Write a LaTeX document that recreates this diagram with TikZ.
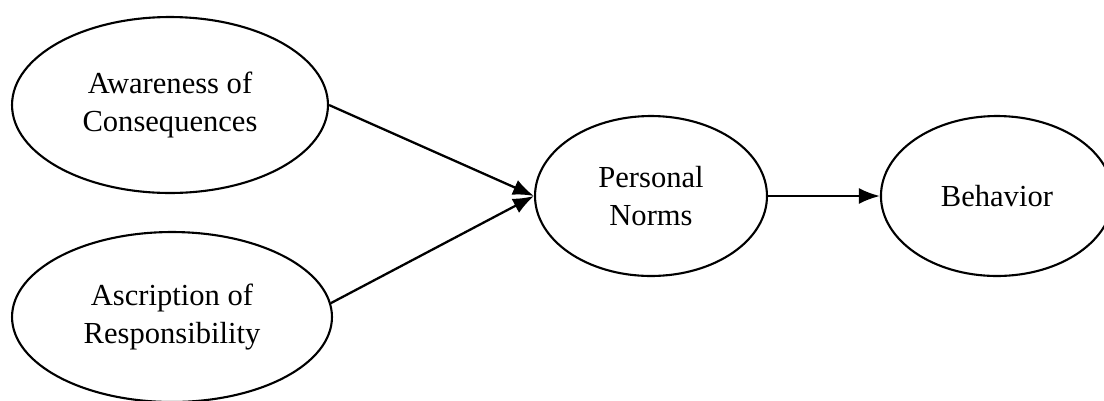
\documentclass[tikz,border=0pt]{standalone}
\usepackage{fontspec}
\setmainfont{Liberation Serif}
\usepackage{tikz}
\usetikzlibrary{shapes.geometric}
\usetikzlibrary{positioning}
\usetikzlibrary{arrows.meta}
\tikzset{node distance=6.92cm, % Distance between the two right-hand factors
factor/.style={ % Sets the properties for each factor
ellipse,
draw,
line width=1.2pt,
inner sep=0pt,
align=center,
font=\fontsize{17.4}{21.2}\selectfont},
every edge/.style={ % Sets the properties for each path
draw,
->,>={Latex[length=4.2mm,width=3.2mm]}, % Filled arrow heads
line width=1.3pt}}

\begin{document}
\begin{tikzpicture}[x=0.02cm,y=-0.02cm]
				\useasboundingbox (0,0) rectangle (1104,400);
				\node[factor, minimum width=6.32cm, minimum height=3.52cm] (aware) at (170,105) {Awareness of\\Consequences};
				\node[factor, minimum width=6.4cm, minimum height=3.4cm] (ascr) at (172,317) {Ascription of\\Responsibility};
				\node[factor, minimum width=4.64cm, minimum height=3.2cm] (norms) at (651,196) {Personal\\Norms};
				\node[factor, minimum width=4.64cm, minimum height=3.2cm, right of=norms] (behav) {Behavior};

				\draw (aware.east) edge (norms.west);
				\draw (ascr.5) edge (norms.west);
				\draw (norms) edge (behav);
			\end{tikzpicture}
\end{document}
